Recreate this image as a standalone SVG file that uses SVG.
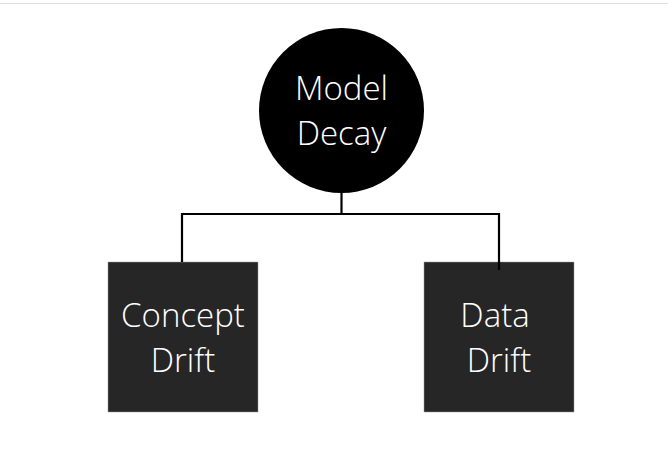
<svg xmlns="http://www.w3.org/2000/svg" width="668" height="456" viewBox="0 0 668 456">
<style>
.lbl{font-family:"Open Sans","Noto Sans","DejaVu Sans",sans-serif;font-weight:300;font-size:33px;fill:#ffffff;text-anchor:middle}
.box{fill:#262626;stroke:#9a9a9a;stroke-width:0.5}
.conn{fill:none;stroke:#000;stroke-width:2.2}
</style>
<rect x="0" y="0" width="668" height="456" fill="#ffffff"/>
<line x1="0" y1="3.5" x2="668" y2="3.5" stroke="#dddddd" stroke-width="1"/>
<g id="model-decay">
<circle cx="341.5" cy="110.5" r="82.5" fill="#000000"/>
<text class="lbl" x="341.5" y="100">Model</text>
<text class="lbl" x="341.5" y="145">Decay</text>
</g>
<g id="concept-drift">
<rect class="box" x="108" y="262" width="150" height="150"/>
<text class="lbl" x="183" y="327">Concept</text>
<text class="lbl" x="183" y="372">Drift</text>
</g>
<g id="data-drift">
<rect class="box" x="424" y="262" width="150" height="150"/>
<text class="lbl" x="495" y="327">Data</text>
<text class="lbl" x="499" y="372">Drift</text>
</g>
<g id="connectors">
<path class="conn" d="M341.5,192 V214 M182,262 V214 H499 V270"/>
</g>
</svg>
